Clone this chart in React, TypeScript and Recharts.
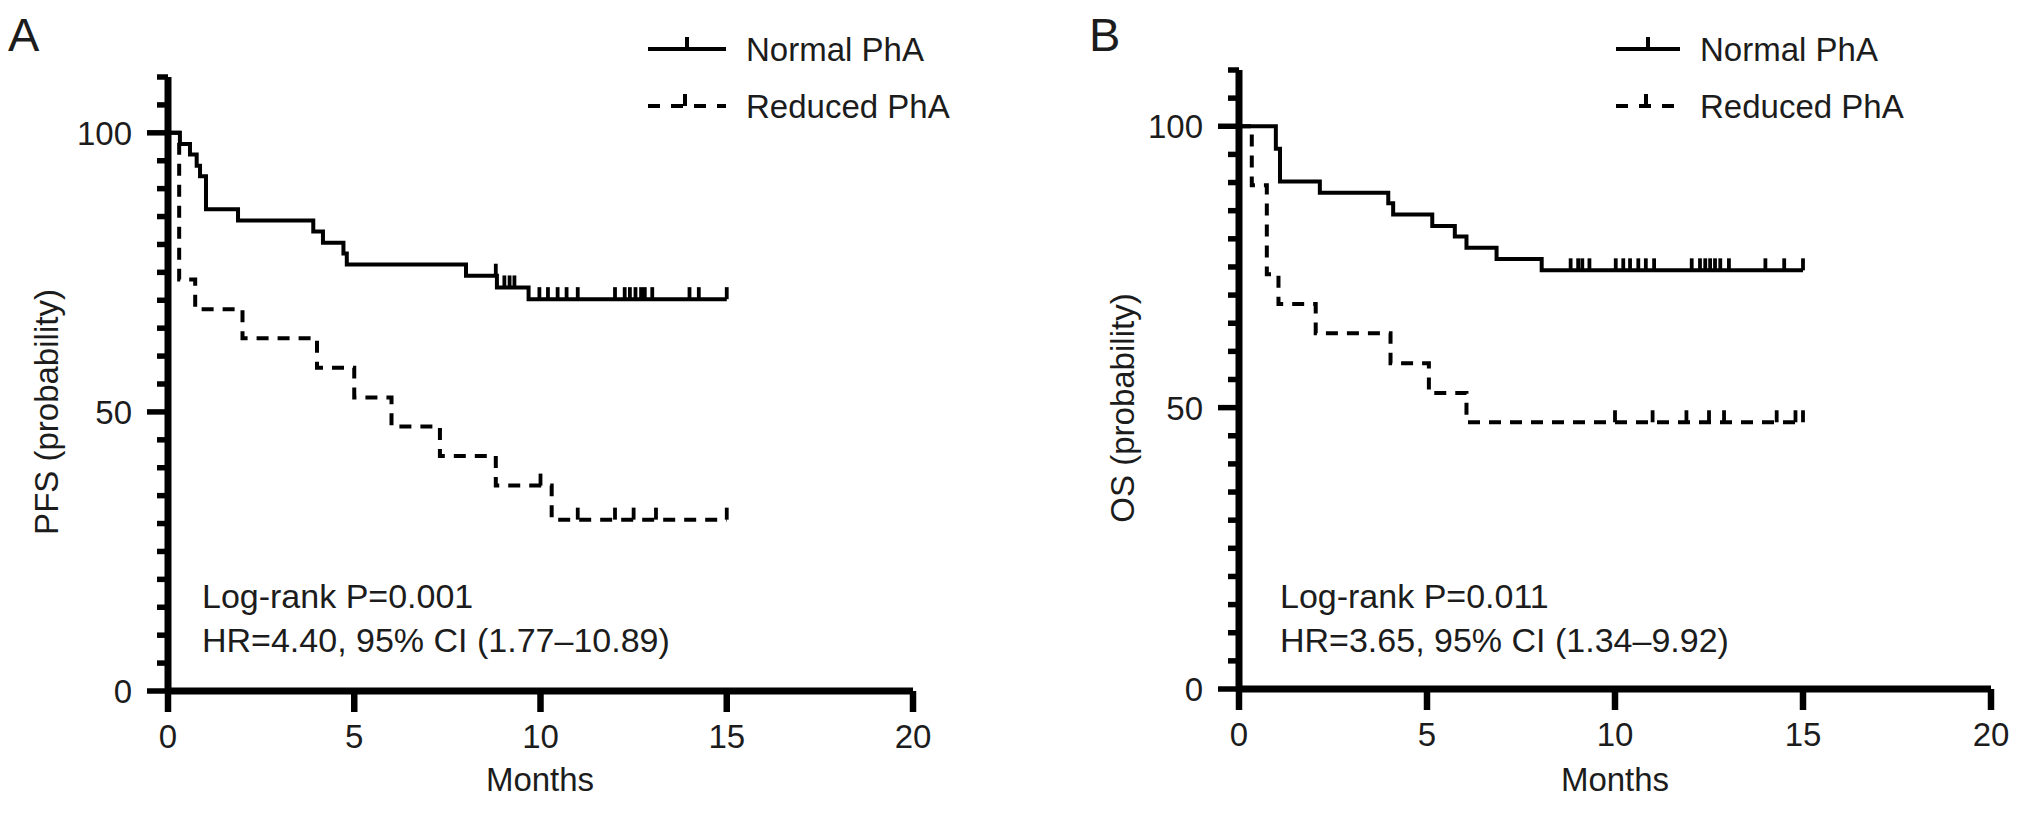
import React from 'react';
import { ComposedChart, Line, Scatter, XAxis, YAxis } from 'recharts';

const FONT = '"Liberation Sans", Arial, Helvetica, sans-serif';
const INK = '#000';
const TEXT = '#1c1c1c';

// ---- Panel A (PFS) ----
const pfsNormalT = [0, 0.32, 0.59, 0.77, 0.86, 1.02, 1.88, 3.9, 4.16, 4.71, 4.8, 8.0, 8.83, 9.68, 15];
const pfsNormalS = [100, 98, 96.1, 94.1, 92.2, 86.3, 84.3, 82.3, 80.3, 78.4, 76.4, 74.4, 72.3, 70.2, 70.2];
const pfsNormalCensor = [8.8, 9.03, 9.17, 9.3, 9.97, 10.2, 10.46, 10.7, 11.0, 12.0, 12.26, 12.4, 12.55, 12.7, 12.8, 13.0, 14.0, 14.25, 15];

const pfsReducedT = [0, 0.3, 0.73, 2.0, 4.0, 5.0, 6.0, 7.3, 8.8, 10.3, 15];
const pfsReducedS = [100, 73.7, 68.4, 63.2, 57.9, 52.6, 47.4, 42.1, 36.8, 30.7, 30.7];
const pfsReducedCensor = [10.0, 11.0, 12.0, 12.5, 13.1, 15];

// ---- Panel B (OS) ----
const osNormalT = [0, 0.98, 1.09, 2.15, 3.97, 4.1, 5.14, 5.74, 6.05, 6.85, 8.05, 15];
const osNormalS = [100, 96.0, 90.2, 88.2, 86.3, 84.3, 82.3, 80.4, 78.4, 76.4, 74.4, 74.4];
const osNormalCensor = [8.82, 9.02, 9.13, 9.32, 10.02, 10.22, 10.4, 10.62, 10.82, 11.04, 12.04, 12.26, 12.4, 12.53, 12.66, 12.8, 13.03, 14.0, 14.5, 15];

const osReducedT = [0, 0.34, 0.74, 1.05, 2.04, 4.03, 5.05, 6.05, 15];
const osReducedS = [100, 89.5, 73.7, 68.4, 63.2, 57.9, 52.6, 47.4, 47.4];
const osReducedCensor = [10.0, 11.0, 11.9, 12.5, 12.9, 14.3, 14.8, 15];

// ---- Axes ----
const xTicks = [0, 5, 10, 15, 20];
const yTicks = [0, 5, 10, 15, 20, 25, 30, 35, 40, 45, 50, 55, 60, 65, 70, 75, 80, 85, 90, 95, 100, 105, 110];
const yLabelTicks = [0, 50, 100];

const seriesNames = ['Normal PhA', 'Reduced PhA'];

type Pt = { t: number; s: number };
const toPts = (t: number[], s: number[]): Pt[] => t.map((x, i) => ({ t: x, s: s[i] }));
const levelAt = (t: number[], s: number[], at: number) => {
  let v = s[0];
  for (let i = 0; i < t.length; i++) if (t[i] <= at + 1e-9) v = s[i];
  return v;
};
const censorPts = (t: number[], s: number[], c: number[]): Pt[] => c.map((x) => ({ t: x, s: levelAt(t, s, x) }));

const YTick = (props: any) => {
  const { x, y, payload } = props;
  const v = payload.value;
  const major = yLabelTicks.includes(v);
  return (
    <g>
      <line x1={x - (major ? 21 : 11)} x2={x} y1={y} y2={y} stroke={INK} strokeWidth={5.5} />
      {major && (
        <text x={x - 36} y={y} dy="0.36em" textAnchor="end" fontSize={33} fill={TEXT} fontFamily={FONT}>
          {v}
        </text>
      )}
    </g>
  );
};

const XTick = (props: any) => {
  const { x, y, payload } = props;
  return (
    <g>
      <line x1={x} x2={x} y1={y} y2={y + 21} stroke={INK} strokeWidth={6.5} />
      <text x={x} y={y + 57} textAnchor="middle" fontSize={33} fill={TEXT} fontFamily={FONT}>
        {payload.value}
      </text>
    </g>
  );
};

const CensorTick = (props: any) => {
  const { cx, cy } = props;
  return <line x1={cx} x2={cx} y1={cy} y2={cy - 12} stroke={INK} strokeWidth={3.8} />;
};

type PanelProps = {
  normal: Pt[];
  reduced: Pt[];
  normalCensor: Pt[];
  reducedCensor: Pt[];
  margin: { top: number; right: number; bottom: number; left: number };
};

const Panel = ({ normal, reduced, normalCensor, reducedCensor, margin }: PanelProps) => (
  <ComposedChart width={1016} height={828} margin={margin}>
    <XAxis
      dataKey="t"
      type="number"
      domain={[0, 20]}
      ticks={xTicks}
      interval={0}
      tickSize={0}
      tickMargin={0}
      tickLine={false}
      tick={<XTick />}
      height={60}
      axisLine={{ stroke: INK, strokeWidth: 7 }}
      allowDataOverflow
    />
    <YAxis
      dataKey="s"
      type="number"
      domain={[0, 110]}
      ticks={yTicks}
      interval={0}
      tickSize={0}
      tickMargin={0}
      tickLine={false}
      tick={<YTick />}
      width={60}
      axisLine={{ stroke: INK, strokeWidth: 7 }}
      allowDataOverflow
    />
    <Line
      data={normal}
      dataKey="s"
      name={seriesNames[0]}
      type="stepAfter"
      stroke={INK}
      strokeWidth={4}
      dot={false}
      activeDot={false}
      isAnimationActive={false}
    />
    <Line
      data={reduced}
      dataKey="s"
      name={seriesNames[1]}
      type="stepAfter"
      stroke={INK}
      strokeWidth={4}
      strokeDasharray="12 9"
      dot={false}
      activeDot={false}
      isAnimationActive={false}
    />
    <Scatter data={normalCensor} dataKey="s" shape={<CensorTick />} isAnimationActive={false} />
    <Scatter data={reducedCensor} dataKey="s" shape={<CensorTick />} isAnimationActive={false} />
  </ComposedChart>
);

const LegendBlock = ({ x, y, textX }: { x: number; y: number; textX: number }) => (
  <g>
    <line x1={x} x2={textX - 20} y1={y} y2={y} stroke={INK} strokeWidth={4} />
    <line x1={(x + textX - 20) / 2} x2={(x + textX - 20) / 2} y1={y} y2={y - 12} stroke={INK} strokeWidth={4} />
    <text x={textX} y={y} dy="0.36em" fontSize={33} fill={TEXT} fontFamily={FONT}>
      {seriesNames[0]}
    </text>
    <line x1={x} x2={textX - 20} y1={y + 57} y2={y + 57} stroke={INK} strokeWidth={4} strokeDasharray="12 11" />
    <line x1={(x + textX - 20) / 2 - 2} x2={(x + textX - 20) / 2 - 2} y1={y + 57} y2={y + 45} stroke={INK} strokeWidth={4} />
    <text x={textX} y={y + 57} dy="0.36em" fontSize={33} fill={TEXT} fontFamily={FONT}>
      {seriesNames[1]}
    </text>
  </g>
);

export default function App() {
  return (
    <div style={{ position: 'absolute', left: 0, top: 0, width: 2032, height: 828, background: '#fff', overflow: 'hidden' }}>
      <div style={{ position: 'absolute', left: 0, top: 0 }}>
        <Panel
          normal={toPts(pfsNormalT, pfsNormalS)}
          reduced={toPts(pfsReducedT, pfsReducedS)}
          normalCensor={censorPts(pfsNormalT, pfsNormalS, pfsNormalCensor)}
          reducedCensor={censorPts(pfsReducedT, pfsReducedS, pfsReducedCensor)}
          margin={{ top: 77, right: 103, bottom: 77, left: 108 }}
        />
      </div>
      <div style={{ position: 'absolute', left: 1016, top: 0 }}>
        <Panel
          normal={toPts(osNormalT, osNormalS)}
          reduced={toPts(osReducedT, osReducedS)}
          normalCensor={censorPts(osNormalT, osNormalS, osNormalCensor)}
          reducedCensor={censorPts(osReducedT, osReducedS, osReducedCensor)}
          margin={{ top: 70, right: 41, bottom: 79, left: 163 }}
        />
      </div>
      <svg width={2032} height={828} style={{ position: 'absolute', left: 0, top: 0, pointerEvents: 'none' }}>
        <text x={8} y={51} fontSize={47} fill={TEXT} fontFamily={FONT}>A</text>
        <text x={1089} y={51} fontSize={47} fill={TEXT} fontFamily={FONT}>B</text>
        <text x={46} y={412} transform="rotate(-90 46 412)" textAnchor="middle" dy="0.36em" fontSize={33} fill={TEXT} fontFamily={FONT}>
          PFS (probability)
        </text>
        <text x={1122} y={408} transform="rotate(-90 1122 408)" textAnchor="middle" dy="0.36em" fontSize={33} fill={TEXT} fontFamily={FONT}>
          OS (probability)
        </text>
        <text x={540} y={791} textAnchor="middle" fontSize={33} fill={TEXT} fontFamily={FONT}>Months</text>
        <text x={1615} y={791} textAnchor="middle" fontSize={33} fill={TEXT} fontFamily={FONT}>Months</text>
        <text x={202} y={608} fontSize={34} fill={TEXT} fontFamily={FONT}>Log-rank P=0.001</text>
        <text x={202} y={652} fontSize={34} fill={TEXT} fontFamily={FONT}>HR=4.40, 95% CI (1.77–10.89)</text>
        <text x={1280} y={608} fontSize={34} fill={TEXT} fontFamily={FONT}>Log-rank P=0.011</text>
        <text x={1280} y={652} fontSize={34} fill={TEXT} fontFamily={FONT}>HR=3.65, 95% CI (1.34–9.92)</text>
        <LegendBlock x={648} y={49} textX={746} />
        <LegendBlock x={1616} y={49} textX={1700} />
      </svg>
    </div>
  );
}
